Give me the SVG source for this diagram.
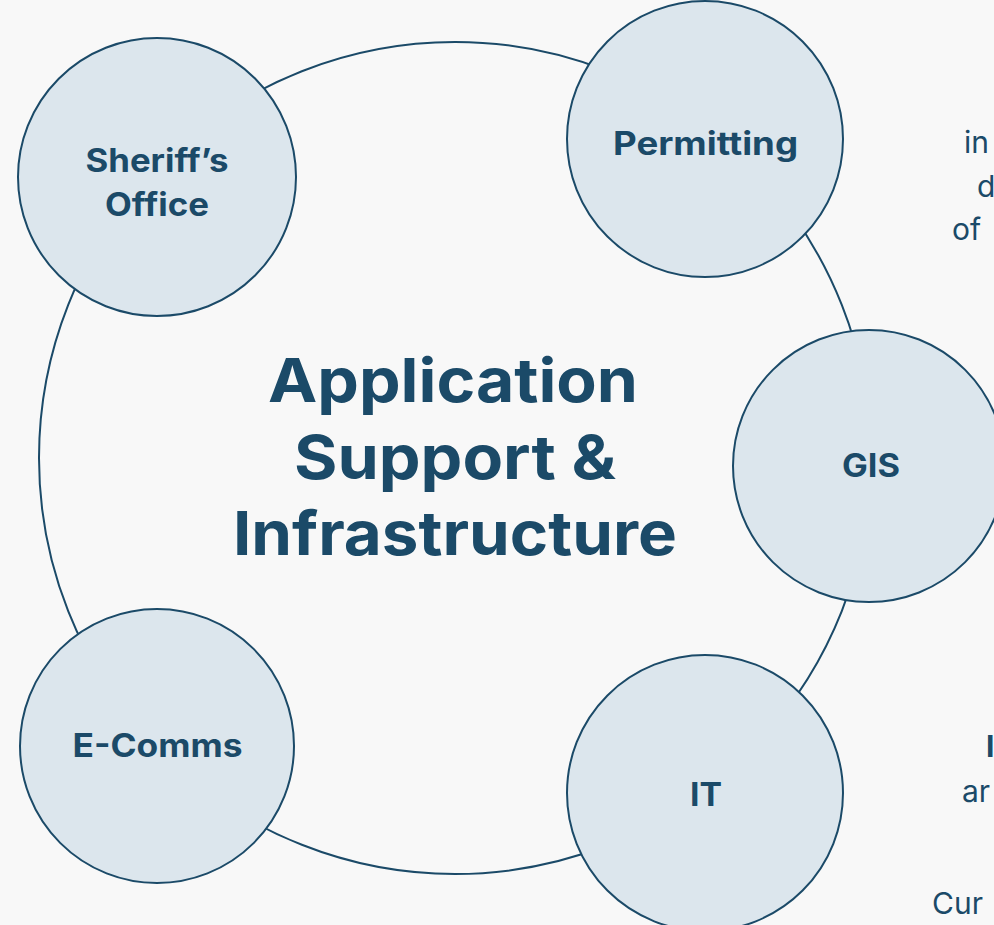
<svg xmlns="http://www.w3.org/2000/svg" width="994" height="925" viewBox="0 0 994 925">
<style>
.node{fill:#dce6ed;stroke:#1b4a68;stroke-width:2}
.ring{fill:none;stroke:#1b4a68;stroke-width:2}
.lbl{font-family:Inter,"Open Sans",sans-serif;font-weight:700;font-size:32px;fill:#1b4a68;text-anchor:middle}
.title{font-family:Inter,"Open Sans",sans-serif;font-weight:700;font-size:61px;fill:#1b4a68;text-anchor:middle}
.side{font-family:Inter,"Open Sans",sans-serif;font-weight:400;font-size:30px;fill:#1b4a68}
.sideb{font-family:Inter,"Open Sans",sans-serif;font-weight:700;font-size:30px;fill:#1b4a68}
</style>
<rect width="994" height="925" fill="#f8f8f8"/>
<g id="connectors">
<circle class="ring" cx="455" cy="458" r="416"/>
</g>
<g id="center">
<text class="title" x="453" y="402" textLength="370" lengthAdjust="spacingAndGlyphs">Application</text>
<text class="title" x="455" y="479" textLength="322" lengthAdjust="spacingAndGlyphs">Support &amp;</text>
<text class="title" x="455" y="555" textLength="444" lengthAdjust="spacingAndGlyphs">Infrastructure</text>
</g>
<g id="sheriff">
<circle class="node" cx="157" cy="177" r="139"/>
<text class="lbl" x="157" y="172" textLength="143" lengthAdjust="spacingAndGlyphs">Sheriff’s</text>
<text class="lbl" x="157" y="216" textLength="104" lengthAdjust="spacingAndGlyphs">Office</text>
</g>
<g id="permitting">
<circle class="node" cx="705" cy="139" r="138"/>
<text class="lbl" x="705.5" y="155" textLength="185" lengthAdjust="spacingAndGlyphs">Permitting</text>
</g>
<g id="gis">
<circle class="node" cx="869" cy="466" r="136"/>
<text class="lbl" x="871" y="477" textLength="58" lengthAdjust="spacingAndGlyphs">GIS</text>
</g>
<g id="ecomms">
<circle class="node" cx="157" cy="746" r="137"/>
<text class="lbl" x="157.5" y="757" textLength="170" lengthAdjust="spacingAndGlyphs">E-Comms</text>
</g>
<g id="it">
<circle class="node" cx="705" cy="793" r="138"/>
<text class="lbl" x="706" y="806" textLength="32" lengthAdjust="spacingAndGlyphs">IT</text>
</g>
<g id="side-text">
<text class="side" x="964" y="153">in</text>
<text class="side" x="977" y="197">d</text>
<text class="side" x="952" y="240">of</text>
<text class="sideb" x="986" y="757">I</text>
<text class="side" x="962" y="802">ar</text>
<text class="side" x="932" y="914">Cur</text>
</g>
</svg>
